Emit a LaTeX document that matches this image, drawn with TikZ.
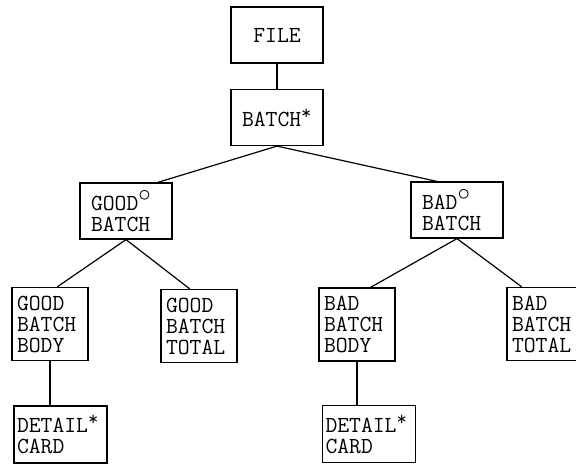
\documentclass[tikz,border=0pt]{standalone}
\usepackage{fontspec}
\usepackage{tikz}
\usetikzlibrary{positioning}

\newcommand{\rep}{\raisebox{7pt}{\fontsize{20}{20}\selectfont *}}
\newcommand{\opt}{\raisebox{9pt}{$\circ$}}

\begin{document}
\begin{tikzpicture}[
    on grid,
    x=1pt, y=1pt,
    blk/.style={draw, line width=1.2pt, align=left, inner ysep=0pt,
        font=\ttfamily\fontsize{23}{21}\selectfont},
    wide/.style={blk, minimum width=92pt, minimum height=56pt, text width=70pt, inner xsep=11pt},
    tall/.style={blk, minimum width=76pt, minimum height=73pt, text width=66pt, inner xsep=5pt},
    card/.style={blk, minimum width=93pt, minimum height=57pt, text width=87pt, inner xsep=3pt},
    link/.style={line width=1.2pt}
]
    \useasboundingbox (0,0) rectangle (576,-464);

    % Define nodes
    \node[wide, align=center] (file) at (277,-35) {FILE};
    \node[wide, below=82.5pt of file] (batch) {BATCH\rep};
    \node[wide, below left=93.5pt and 151pt of batch] (good) {GOOD\opt\\BATCH};
    \node[wide, below right=92.5pt and 180pt of batch] (bad) {BAD\opt\\BATCH};
    \node[tall, below left=113pt and 76pt of good] (goodbody) {GOOD\\BATCH\\BODY};
    \node[tall, below right=115pt and 73pt of good] (goodtotal) {GOOD\\BATCH\\TOTAL};
    \node[card, below right=110.5pt and 10.5pt of goodbody] (goodcard) {DETAIL\rep\\CARD};
    \node[tall, below left=114.5pt and 100pt of bad] (badbody) {BAD\\BATCH\\BODY};
    \node[tall, below right=114pt and 88pt of bad] (badtotal) {BAD\\BATCH\\TOTAL};
    \node[card, below right=109.5pt and 12pt of badbody] (badcard) {DETAIL\rep\\CARD};

    % Connectors
    \path[link]
        (file) edge (batch)
        (batch.south) edge (good.42)
        (batch.south) edge (bad.125)
        (good.south) edge (goodbody.79)
        (good.south) edge (goodtotal.104)
        (bad.south) edge (badbody.70)
        (bad.south) edge (badtotal.122)
        (goodbody.south) edge (goodbody.south |- goodcard.north)
        (badbody.south) edge (badbody.south |- badcard.north);
\end{tikzpicture}
\end{document}
